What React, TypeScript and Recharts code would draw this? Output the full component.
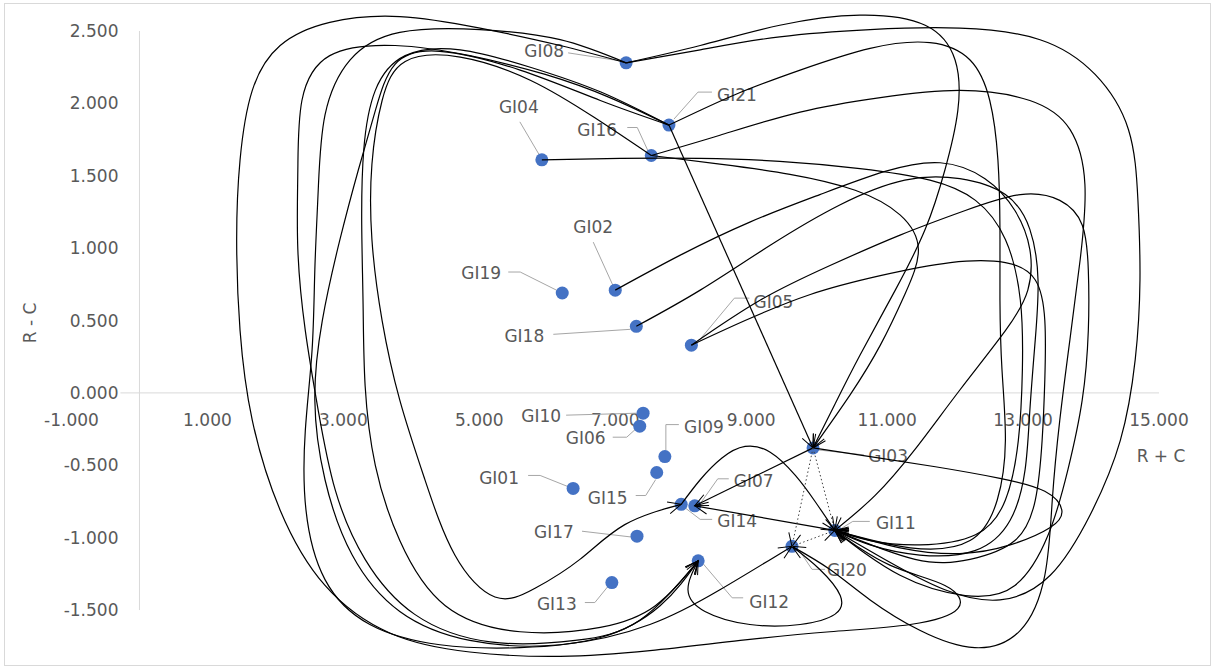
/**
 * Cause/effect map: R + C (prominence) on x, R - C (relation) on y, with the
 * hand-drawn influence arrows between the GI nodes.
 */

import { Curve, ReferenceDot, ReferenceLine, Scatter, ScatterChart, XAxis, YAxis } from "recharts";

// node positions
const nodeNames = [
  "GI01", "GI02", "GI03", "GI04", "GI05", "GI06", "GI07", "GI08", "GI09", "GI10", "GI11",
  "GI12", "GI13", "GI14", "GI15", "GI16", "GI17", "GI18", "GI19", "GI20", "GI21",
];
const rPlusC = [
  6.38, 7.0, 9.91, 5.92, 8.12, 7.36, 8.17, 7.16, 7.73, 7.41, 10.23,
  8.22, 6.95, 7.97, 7.61, 7.53, 7.32, 7.31, 6.22, 9.6, 7.79,
];
const rMinusC = [
  -0.66, 0.71, -0.38, 1.61, 0.33, -0.23, -0.78, 2.28, -0.44, -0.14, -0.95,
  -1.16, -1.31, -0.77, -0.55, 1.64, -0.99, 0.46, 0.69, -1.06, 1.85,
];

const xTicks = [-1, 1, 3, 5, 7, 9, 11, 13, 15];
const yTicks = [-1.5, -1, -0.5, 0, 0.5, 1, 1.5, 2, 2.5];

// arrows: source, target, and the bend points (R + C, R - C) the connector passes through
type Link = { from: string; to: string; via: number[][]; dotted?: boolean };
const links: Link[] = [
  { from: "GI21", to: "GI03", via: [] },
  // loops over the top and down the right-hand side
  { from: "GI08", to: "GI03", via: [[8.25, 2.4], [9.42, 2.54], [10.6, 2.61], [11.56, 2.54], [12.0, 2.3], [12.04, 1.95], [11.85, 1.54], [11.56, 1.13], [11.12, 0.71], [10.6, 0.26], [10.23, -0.08]] },
  { from: "GI08", to: "GI11", via: [[8.25, 2.37], [9.42, 2.46], [10.75, 2.51], [12.07, 2.52], [13.25, 2.44], [14.06, 2.2], [14.55, 1.82], [14.69, 1.33], [14.72, 0.78], [14.65, 0.23], [14.43, -0.33], [13.99, -0.84], [13.4, -1.26], [12.66, -1.43], [11.85, -1.36], [11.04, -1.17]] },
  { from: "GI21", to: "GI11", via: [[8.76, 2.06], [9.72, 2.23], [10.75, 2.38], [11.63, 2.42], [12.22, 2.3], [12.51, 2.02], [12.63, 1.61], [12.66, 1.13], [12.66, 0.64], [12.69, 0.16], [12.74, -0.33], [12.62, -0.74], [12.22, -1.02], [11.34, -1.07]] },
  { from: "GI02", to: "GI11", via: [[7.95, 0.95], [8.98, 1.18], [10.01, 1.37], [10.97, 1.53], [11.78, 1.59], [12.44, 1.48], [12.88, 1.26], [13.1, 0.99], [13.07, 0.71], [12.74, 0.43], [12.07, 0.02], [11.41, -0.39], [10.82, -0.71]] },
  { from: "GI18", to: "GI11", via: [[8.25, 0.71], [9.28, 1.02], [10.31, 1.3], [11.26, 1.47], [12.07, 1.48], [12.74, 1.37], [13.1, 1.13], [13.22, 0.78], [13.18, 0.37], [13.1, -0.12], [13.03, -0.53], [12.81, -0.88], [12.29, -1.09], [11.48, -1.12], [10.75, -1.05]] },
  { from: "GI05", to: "GI11", via: [[8.91, 0.5], [9.87, 0.68], [10.9, 0.81], [11.93, 0.9], [12.74, 0.9], [13.18, 0.78], [13.32, 0.5], [13.32, 0.09], [13.28, -0.33], [13.18, -0.74], [12.88, -1.02], [12.22, -1.15], [11.41, -1.15]] },
  { from: "GI05", to: "GI11", via: [[9.13, 0.64], [10.16, 0.88], [11.19, 1.09], [12.15, 1.26], [12.96, 1.37], [13.54, 1.33], [13.87, 1.16], [13.96, 0.85], [13.96, 0.43], [13.87, -0.05], [13.66, -0.53], [13.37, -0.98], [12.88, -1.33], [12.15, -1.4], [11.19, -1.26]] },
  { from: "GI16", to: "GI20", via: [[8.54, 1.78], [9.72, 1.94], [10.9, 2.04], [12.07, 2.09], [13.1, 2.02], [13.69, 1.82], [13.91, 1.44], [13.84, 0.92], [13.69, 0.37], [13.54, -0.19], [13.43, -0.74], [13.32, -1.26], [12.96, -1.64], [12.29, -1.76], [11.48, -1.64], [10.75, -1.43], [10.16, -1.22]] },
  { from: "GI16", to: "GI03", via: [[8.54, 1.58], [9.57, 1.51], [10.53, 1.4], [11.19, 1.23], [11.46, 0.99], [11.26, 0.68], [10.9, 0.33], [10.46, -0.01]] },
  { from: "GI04", to: "GI11", via: [[7.07, 1.62], [8.25, 1.62], [9.42, 1.6], [10.6, 1.55], [11.63, 1.47], [12.3, 1.33], [12.74, 1.06], [12.96, 0.64], [12.99, 0.16], [12.93, -0.33], [12.74, -0.74], [12.3, -0.98], [11.48, -1.05], [10.75, -1.02]] },
  { from: "GI03", to: "GI11", via: [[10.75, -0.44], [11.71, -0.51], [12.66, -0.59], [13.32, -0.68], [13.57, -0.81], [13.4, -0.93], [12.81, -1.05], [12.07, -1.11], [11.19, -1.07]] },
  // loops over the top and down the left-hand side
  { from: "GI08", to: "GI11", via: [[6.19, 2.4], [5.01, 2.52], [3.83, 2.6], [2.8, 2.56], [2.07, 2.4], [1.66, 2.09], [1.48, 1.61], [1.43, 1.06], [1.48, 0.43], [1.66, -0.19], [2.07, -0.81], [2.73, -1.33], [3.69, -1.66], [4.86, -1.79], [6.19, -1.82], [7.51, -1.78], [8.84, -1.71], [10.16, -1.65], [11.34, -1.6], [12.04, -1.49], [11.85, -1.33], [11.04, -1.19]] },
  { from: "GI08", to: "GI12", via: [[6.19, 2.44], [5.01, 2.51], [3.83, 2.49], [3.1, 2.3], [2.73, 1.92], [2.63, 1.4], [2.58, 0.85], [2.54, 0.3], [2.44, -0.26], [2.45, -0.81], [2.73, -1.29], [3.39, -1.6], [4.42, -1.74], [5.6, -1.76], [6.78, -1.69], [7.66, -1.47]] },
  { from: "GI21", to: "GI12", via: [[6.92, 2.04], [5.97, 2.2], [4.86, 2.33], [3.76, 2.4], [2.8, 2.33], [2.39, 2.02], [2.33, 1.54], [2.33, 0.99], [2.44, 0.43], [2.63, -0.12], [2.88, -0.67], [3.32, -1.15], [4.05, -1.53], [5.16, -1.72], [6.41, -1.71], [7.36, -1.57]] },
  { from: "GI21", to: "GI20", via: [[6.78, 2.02], [5.6, 2.23], [4.42, 2.36], [3.76, 2.27], [3.47, 1.95], [3.22, 1.54], [2.95, 1.06], [2.69, 0.5], [2.58, -0.05], [2.73, -0.6], [3.13, -1.12], [3.83, -1.51], [4.86, -1.71], [6.19, -1.74], [7.51, -1.6], [8.54, -1.36]] },
  { from: "GI21", to: "GI12", via: [[6.78, 2.08], [5.75, 2.25], [4.72, 2.37], [3.91, 2.33], [3.47, 2.09], [3.3, 1.68], [3.27, 1.16], [3.29, 0.61], [3.32, 0.05], [3.47, -0.5], [3.83, -1.02], [4.5, -1.47], [5.6, -1.65], [6.78, -1.62], [7.59, -1.47]] },
  { from: "GI16", to: "GI14", via: [[6.7, 1.9], [5.75, 2.16], [4.72, 2.32], [3.91, 2.29], [3.57, 2.02], [3.42, 1.58], [3.42, 1.06], [3.57, 0.5], [3.83, -0.05], [4.2, -0.6], [4.64, -1.12], [5.23, -1.41], [5.82, -1.35], [6.48, -1.15], [7.14, -0.91]] },
  // short links around the lower cluster
  { from: "GI14", to: "GI11", via: [[8.25, -0.6], [8.57, -0.45], [8.91, -0.37], [9.28, -0.41], [9.65, -0.57], [9.94, -0.75]] },
  { from: "GI03", to: "GI07", via: [] },
  { from: "GI11", to: "GI07", via: [] },
  { from: "GI20", to: "GI12", via: [[10.01, -1.22], [10.31, -1.4], [10.23, -1.53], [9.72, -1.6], [8.98, -1.6], [8.32, -1.51], [8.07, -1.36]] },
  { from: "GI03", to: "GI11", via: [], dotted: true },
  { from: "GI03", to: "GI20", via: [], dotted: true },
  { from: "GI20", to: "GI11", via: [], dotted: true },
];

// data label placement, pixels relative to the marker: text centre and leader polyline
const labelLayout: Record<string, { dx: number; dy: number; leader: number[][] }> = {
  GI01: { dx: -74, dy: -10, leader: [[-45, -13], [-33, -13], [-3, -1]] },
  GI02: { dx: -22, dy: -63, leader: [[-22, -48], [-2, -4]] },
  GI03: { dx: 75, dy: 8, leader: [[51, 7], [5, 2]] },
  GI04: { dx: -23, dy: -53, leader: [[-22, -38], [-2, -4]] },
  GI05: { dx: 82, dy: -43, leader: [[58, -47], [43, -47], [8, -5]] },
  GI06: { dx: -54, dy: 12, leader: [[-27, 11], [-13, 11], [-2, 1]] },
  GI07: { dx: 59, dy: -25, leader: [[34, -27], [23, -27], [6, -3]] },
  GI08: { dx: -82, dy: -12, leader: [[-58, -10], [-6, -2]] },
  GI09: { dx: 39, dy: -30, leader: [[14, -32], [1, -32], [1, -6]] },
  GI10: { dx: -102, dy: 3, leader: [[-77, 2], [-5, 0]] },
  GI11: { dx: 61, dy: -7, leader: [[35, -9], [18, -9], [5, -1]] },
  GI12: { dx: 71, dy: 41, leader: [[45, 37], [34, 37], [5, 3]] },
  GI13: { dx: -55, dy: 21, leader: [[-27, 20], [-17, 20], [-4, 4]] },
  GI14: { dx: 56, dy: 17, leader: [[31, 15], [19, 15], [2, 2]] },
  GI15: { dx: -49, dy: 25, leader: [[-21, 23], [-11, 23], [-1, 7]] },
  GI16: { dx: -54, dy: -26, leader: [[-24, -28], [-14, -28], [-3, -4]] },
  GI17: { dx: -83, dy: -4, leader: [[-55, -5], [-4, 1]] },
  GI18: { dx: -112, dy: 10, leader: [[-83, 8], [-6, 3]] },
  GI19: { dx: -81, dy: -20, leader: [[-54, -21], [-42, -21], [-4, -2]] },
  GI20: { dx: 55, dy: 24, leader: [[33, 23], [20, 23], [8, 5]] },
  GI21: { dx: 68, dy: -30, leader: [[43, -33], [29, -33], [5, -6]] },
};

const FONT = "'DejaVu Sans', sans-serif";
const FONT_SIZE = 17;
const TEXT = "#595959";
const AXIS = "#d9d9d9";
const DOT = "#4472C4";

const nodes = nodeNames.map((name, i) => ({ name, x: rPlusC[i], y: rMinusC[i] }));
const byName: Record<string, { x: number; y: number }> = Object.fromEntries(
  nodes.map((n) => [n.name, n]),
);

function NodeShape(props: any) {
  const { cx, cy, payload } = props;
  const lay = labelLayout[payload.name];
  const pts = lay.leader.map(([a, b]) => `${cx + a},${cy + b}`).join(" ");
  return (
    <g>
      <polyline points={pts} fill="none" stroke="#a6a6a6" strokeWidth={1} />
      <circle cx={cx} cy={cy} r={6.5} fill={DOT} />
      <text
        x={cx + lay.dx}
        y={cy + lay.dy}
        textAnchor="middle"
        dominantBaseline="central"
        fontFamily={FONT}
        fontSize={FONT_SIZE}
        fill={TEXT}
      >
        {payload.name}
      </text>
    </g>
  );
}

const NoPoint = () => <g />;

const fmt = (v: number) => v.toFixed(3);

export default function App() {
  return (
    <div style={{ position: "absolute", left: 0, top: 0, width: 1215, height: 669, background: "#fff" }}>
      <svg width={1215} height={669} style={{ position: "absolute", left: 0, top: 0 }}>
        <rect x={4.5} y={3.5} width={1206} height={662} fill="none" stroke={AXIS} />
        <text
          x={30}
          y={323}
          transform="rotate(-90 30 323)"
          textAnchor="middle"
          dominantBaseline="central"
          fontFamily={FONT}
          fontSize={FONT_SIZE}
          fill={TEXT}
        >
          R - C
        </text>
        <text
          x={1161}
          y={456}
          textAnchor="middle"
          dominantBaseline="central"
          fontFamily={FONT}
          fontSize={FONT_SIZE}
          fill={TEXT}
        >
          R + C
        </text>
      </svg>
      <div style={{ position: "absolute", left: 0, top: 0 }}>
        <ScatterChart width={1215} height={669} margin={{ top: 9.3, right: 56, bottom: 8.3, left: 71.5 }}>
          <defs>
            <marker
              id="openArrow"
              markerUnits="userSpaceOnUse"
              markerWidth={16}
              markerHeight={14}
              refX={14}
              refY={7}
              orient="auto"
            >
              <path d="M1,1 L14,7 L1,13" fill="none" stroke="#000" strokeWidth={1} />
            </marker>
          </defs>
          <XAxis type="number" dataKey="x" domain={[-1, 15]} hide allowDataOverflow />
          <YAxis type="number" dataKey="y" domain={[-1.85, 2.65]} hide allowDataOverflow />
          <ReferenceLine segment={[{ x: -0.28, y: 0 }, { x: 15, y: 0 }]} stroke={AXIS} strokeWidth={1} />
          <ReferenceLine segment={[{ x: 0, y: -1.5 }, { x: 0, y: 2.5 }]} stroke={AXIS} strokeWidth={1} />
          {xTicks.map((v) => (
            <ReferenceDot
              key={`xt${v}`}
              x={v}
              y={0}
              r={0}
              shape={(p: any) => (
                <text
                  x={p.cx}
                  y={p.cy + 27}
                  textAnchor="middle"
                  dominantBaseline="central"
                  fontFamily={FONT}
                  fontSize={FONT_SIZE}
                  fill={TEXT}
                >
                  {fmt(v)}
                </text>
              )}
            />
          ))}
          {yTicks.map((v) => (
            <ReferenceDot
              key={`yt${v}`}
              x={0}
              y={v}
              r={0}
              shape={(p: any) => (
                <text
                  x={p.cx - 21}
                  y={p.cy}
                  textAnchor="end"
                  dominantBaseline="central"
                  fontFamily={FONT}
                  fontSize={FONT_SIZE}
                  fill={TEXT}
                >
                  {fmt(v)}
                </text>
              )}
            />
          ))}
          <Scatter data={nodes} shape={NodeShape} isAnimationActive={false} legendType="none" />
          {links.map((lk, i) => {
            const a = byName[lk.from];
            const b = byName[lk.to];
            const pts = [
              { x: a.x, y: a.y },
              ...lk.via.map(([x, y]) => ({ x, y })),
              { x: b.x, y: b.y },
            ];
            return (
              <Scatter
                key={`link${i}`}
                data={pts}
                shape={NoPoint}
                isAnimationActive={false}
                legendType="none"
                lineType="joint"
                line={(p: any) => (
                  <Curve
                    points={p.points}
                    type={lk.via.length ? "natural" : "linear"}
                    fill="none"
                    stroke={lk.dotted ? "#404040" : "#000"}
                    strokeWidth={lk.dotted ? 1 : 1.2}
                    strokeDasharray={lk.dotted ? "1.5 2.5" : undefined}
                    markerEnd="url(#openArrow)"
                  />
                )}
              />
            );
          })}
        </ScatterChart>
      </div>
    </div>
  );
}
